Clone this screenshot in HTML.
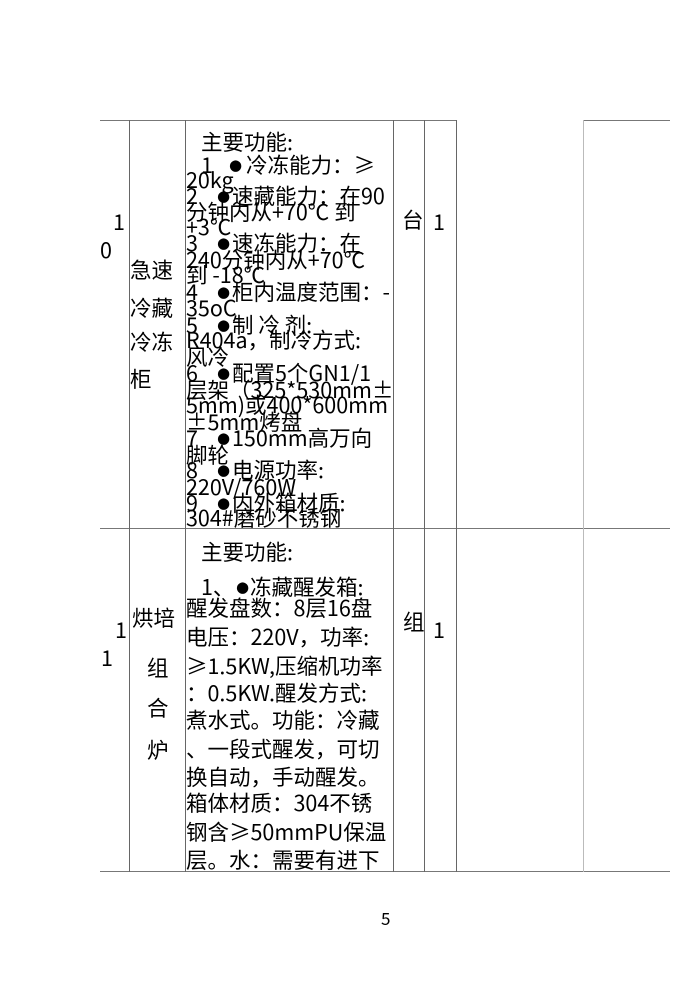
<!DOCTYPE html>
<html><head><meta charset="utf-8">
<style>
html,body{margin:0;padding:0;background:#fff;}
body{width:699px;height:982px;position:relative;overflow:hidden;font-family:"Noto Sans CJK SC","Liberation Sans",sans-serif;color:#000;}
.h{position:absolute;height:1px;background:#777;}
.v{position:absolute;width:1px;background:#666;}
.t{position:absolute;font-size:21.5px;line-height:22px;white-space:nowrap;}
.b{position:absolute;font-family:"DejaVu Sans",sans-serif;font-size:15px;line-height:22px;}
.clip{position:absolute;left:186px;top:121px;width:207px;height:407px;overflow:hidden;}
.clip .t,.clip .b{margin-left:-186px;margin-top:-121px;}
</style></head><body>
<div class="h" style="left:100px;top:120px;width:357px"></div>
<div class="h" style="left:583px;top:120px;width:87px"></div>
<div class="h" style="left:100px;top:528px;width:570px"></div>
<div class="h" style="left:100px;top:871px;width:570px"></div>
<div class="v" style="left:129px;top:120px;height:752px"></div>
<div class="v" style="left:185px;top:120px;height:752px"></div>
<div class="v" style="left:393px;top:120px;height:752px"></div>
<div class="v" style="left:424px;top:120px;height:752px"></div>
<div class="v" style="left:456px;top:120px;height:752px"></div>
<div class="v" style="left:583px;top:120px;height:752px;background:#bbb"></div>

<div class="t" style="left:113px;top:211px">1</div>
<div class="t" style="left:100px;top:239px">0</div>
<div class="t" style="left:130px;top:259px">急速</div>
<div class="t" style="left:130px;top:297px">冷藏</div>
<div class="t" style="left:130px;top:331px">冷冻</div>
<div class="t" style="left:130px;top:368px">柜</div>
<div class="t" style="left:402px;top:209px">台</div>
<div class="t" style="left:433px;top:211px">1</div>

<div class="clip">
<div class="t" style="left:201px;top:131px">主要功能:</div>
<div class="t" style="left:201px;top:154px">1</div><div class="b" style="left:229px;top:154px">●</div><div class="t" style="left:246px;top:154px">冷冻能力：≥</div>
<div class="t" style="left:186px;top:169px">20kg</div>
<div class="t" style="left:186px;top:185px">2</div><div class="b" style="left:217px;top:185px">●</div><div class="t" style="left:232px;top:185px">速藏能力：在90</div>
<div class="t" style="left:186px;top:201px">分钟内从+70℃ 到</div>
<div class="t" style="left:186px;top:216px">+3℃</div>
<div class="t" style="left:186px;top:232px">3</div><div class="b" style="left:217px;top:232px">●</div><div class="t" style="left:232px;top:232px">速冻能力：在</div>
<div class="t" style="left:186px;top:249px">240分钟内从+70℃</div>
<div class="t" style="left:186px;top:264px">到 -18℃</div>
<div class="t" style="left:186px;top:281px">4</div><div class="b" style="left:217px;top:281px">●</div><div class="t" style="left:232px;top:281px">柜内温度范围：-</div>
<div class="t" style="left:186px;top:297px">35oC</div>
<div class="t" style="left:186px;top:314px">5</div><div class="b" style="left:217px;top:314px">●</div><div class="t" style="left:232px;top:314px">制 冷 剂:</div>
<div class="t" style="left:186px;top:329px">R404a，制冷方式:</div>
<div class="t" style="left:186px;top:346px">风冷</div>
<div class="t" style="left:186px;top:362px">6</div><div class="b" style="left:217px;top:362px">●</div><div class="t" style="left:232px;top:362px">配置5个GN1/1</div>
<div class="t" style="left:186px;top:379px">层架（325*530mm±</div>
<div class="t" style="left:186px;top:394px">5mm)或400*600mm</div>
<div class="t" style="left:186px;top:411px">±5mm烤盘</div>
<div class="t" style="left:186px;top:427px">7</div><div class="b" style="left:217px;top:427px">●</div><div class="t" style="left:232px;top:427px">150mm高万向</div>
<div class="t" style="left:186px;top:444px">脚轮</div>
<div class="t" style="left:186px;top:459px">8</div><div class="b" style="left:217px;top:459px">●</div><div class="t" style="left:232px;top:459px">电源功率:</div>
<div class="t" style="left:186px;top:476px">220V/760W</div>
<div class="t" style="left:186px;top:492px">9</div><div class="b" style="left:217px;top:492px">●</div><div class="t" style="left:232px;top:492px">内外箱材质:</div>
<div class="t" style="left:186px;top:507px">304#磨砂不锈钢</div>
</div>

<div class="t" style="left:115px;top:619px">1</div>
<div class="t" style="left:101px;top:647px">1</div>
<div class="t" style="left:132px;top:607px">烘培</div>
<div class="t" style="left:147px;top:657px">组</div>
<div class="t" style="left:147px;top:697px">合</div>
<div class="t" style="left:147px;top:739px">炉</div>
<div class="t" style="left:403px;top:611px">组</div>
<div class="t" style="left:433px;top:619px">1</div>

<div class="t" style="left:201px;top:541px">主要功能:</div>
<div class="t" style="left:201px;top:576px">1、</div><div class="b" style="left:236px;top:576px">●</div><div class="t" style="left:250px;top:576px">冻藏醒发箱:</div>
<div class="t" style="left:186px;top:597px">醒发盘数：8层16盘</div>
<div class="t" style="left:186px;top:626px">电压：220V，功率:</div>
<div class="t" style="left:186px;top:655px">≥1.5KW,压缩机功率</div>
<div class="t" style="left:186px;top:682px">：0.5KW.醒发方式:</div>
<div class="t" style="left:186px;top:709px">煮水式。功能：冷藏</div>
<div class="t" style="left:186px;top:738px">、一段式醒发，可切</div>
<div class="t" style="left:186px;top:766px">换自动，手动醒发。</div>
<div class="t" style="left:186px;top:792px">箱体材质：304不锈</div>
<div class="t" style="left:186px;top:821px">钢含≥50mmPU保温</div>
<div class="t" style="left:186px;top:849px">层。水：需要有进下</div>

<div class="t" style="left:381px;top:907px;font-size:17px">5</div>
</body></html>
